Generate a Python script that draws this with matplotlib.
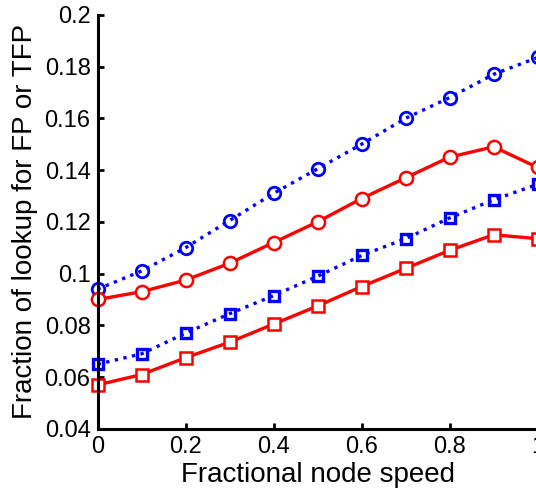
import matplotlib
matplotlib.use("Agg")
import matplotlib.pyplot as plt

plt.rcParams['font.family'] = ['Liberation Sans', 'DejaVu Sans']

# fractional node speed
speed = [0, 0.1, 0.2, 0.3, 0.4, 0.5, 0.6, 0.7, 0.8, 0.9, 1.0]

# fraction of lookups, four configurations
tfp_circle = [0.094, 0.101, 0.110, 0.1205, 0.131, 0.1405, 0.150, 0.160, 0.168, 0.177, 0.1835]
fp_circle = [0.090, 0.093, 0.0975, 0.104, 0.112, 0.120, 0.129, 0.137, 0.145, 0.149, 0.141]
tfp_square = [0.065, 0.069, 0.077, 0.0845, 0.0915, 0.099, 0.107, 0.1135, 0.1215, 0.1285, 0.1345]
fp_square = [0.057, 0.061, 0.0675, 0.0735, 0.0805, 0.0875, 0.095, 0.102, 0.109, 0.115, 0.1135]

xticks = [0, 0.2, 0.4, 0.6, 0.8, 1.0]
xtick_labels = ['0', '0.2', '0.4', '0.6', '0.8', '1']
yticks = [0.04, 0.06, 0.08, 0.1, 0.12, 0.14, 0.16, 0.18, 0.2]
ytick_labels = ['0.04', '0.06', '0.08', '0.1', '0.12', '0.14', '0.16', '0.18', '0.2']

fig = plt.figure(figsize=(5.36, 4.93), dpi=100)
ax = fig.add_axes([0.182, 0.130, 0.821, 0.840])

ax.plot(speed, tfp_circle, color='blue', linestyle=':', linewidth=2.4,
        marker='o', markersize=9, markeredgewidth=2.0, markerfacecolor='none', clip_on=False)
ax.plot(speed, fp_circle, color='red', linestyle='-', linewidth=2.4,
        marker='o', markersize=9.5, markeredgewidth=1.8, markerfacecolor='white', clip_on=False)
ax.plot(speed, tfp_square, color='blue', linestyle=':', linewidth=2.4,
        marker='s', markersize=7.5, markeredgewidth=2.4, markerfacecolor='none', clip_on=False)
ax.plot(speed, fp_square, color='red', linestyle='-', linewidth=2.4,
        marker='s', markersize=8, markeredgewidth=1.8, markerfacecolor='white', clip_on=False)

ax.set_xlim(0, 1)
ax.set_ylim(0.04, 0.2)
ax.set_xticks(xticks)
ax.set_xticklabels(xtick_labels)
ax.set_yticks(yticks)
ax.set_yticklabels(ytick_labels)

for side in ['top', 'right']:
    ax.spines[side].set_visible(False)
for side in ['left', 'bottom']:
    ax.spines[side].set_linewidth(2.2)
ax.tick_params(direction='in', length=4, width=2, labelsize=17, pad=5)

ax.set_xlabel('Fractional node speed', fontsize=20, labelpad=3)
ax.set_ylabel('Fraction of lookup for FP or TFP', fontsize=20, labelpad=5)

fig.savefig('out.png', dpi=100)
